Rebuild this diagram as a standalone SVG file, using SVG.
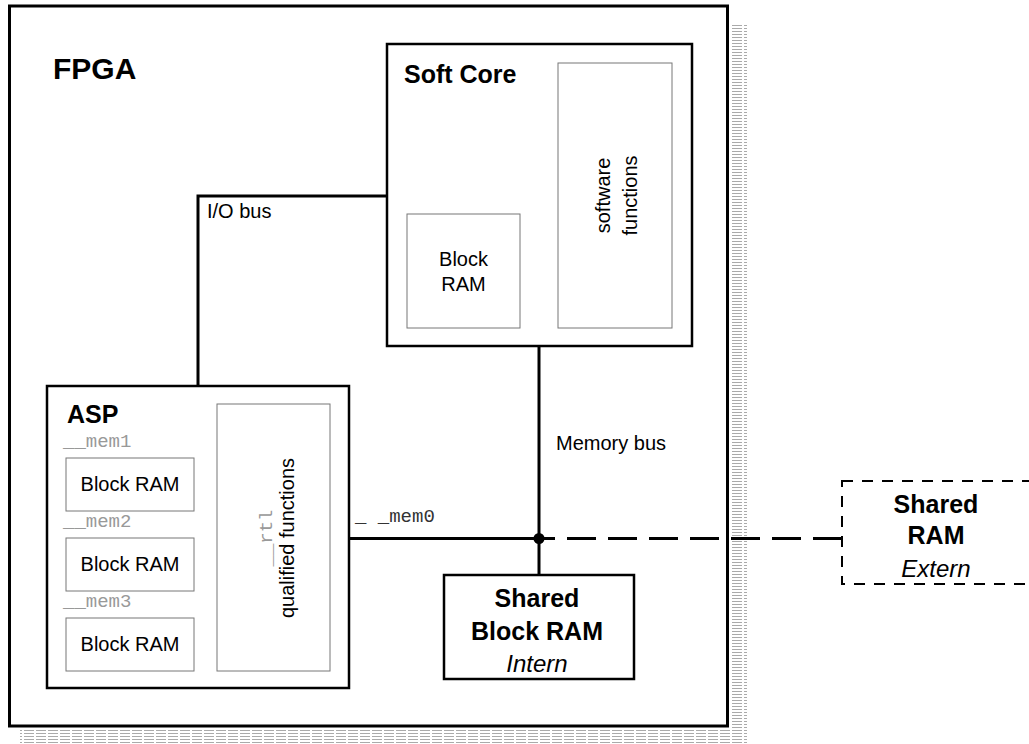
<svg xmlns="http://www.w3.org/2000/svg" width="1029" height="744" viewBox="0 0 1029 744">
<defs>
<pattern id="hatch" width="12" height="3" patternUnits="userSpaceOnUse">
<rect width="12" height="3" fill="#fff"/>
<line x1="0" y1="1.5" x2="10" y2="1.5" stroke="#aaa" stroke-width="1"/>
</pattern>
<style>
.box{fill:#fff;stroke:#000;stroke-width:2.5}
.inner{fill:#fff;stroke:#777;stroke-width:1}
.t{font-family:"Liberation Sans",Arial,sans-serif;fill:#000}
.b{font-weight:bold}
.m{font-family:"Liberation Mono","Courier New",monospace;font-size:19px;fill:#999}
.bus{fill:none;stroke:#000;stroke-width:3}
</style>
</defs>
<rect width="1029" height="744" fill="#fff"/>
<g id="fpga">
<rect x="730" y="24" width="17" height="719" fill="url(#hatch)"/>
<rect x="20" y="729" width="727" height="14" fill="url(#hatch)"/>
<rect x="9.5" y="6" width="718" height="720" fill="#fff" stroke="#000" stroke-width="3"/>
<text class="t b" x="53" y="79" font-size="30">FPGA</text>
</g>
<g id="connectors">
<polyline class="bus" points="198,386 198,196 387,196"/>
<line class="bus" x1="539" y1="346" x2="539" y2="575"/>
<line class="bus" x1="349" y1="538.5" x2="539" y2="538.5"/>
<line class="bus" x1="539" y1="538.5" x2="842" y2="538.5" stroke-dasharray="29 12" stroke-dashoffset="13"/>
<circle cx="539" cy="538.5" r="5.5" fill="#000"/>
<text class="t" x="207" y="218" font-size="20">I/O bus</text>
<text class="t" x="556" y="450" font-size="20">Memory bus</text>
<text class="m" x="355" y="522" style="fill:#333">_ _mem0</text>
</g>
<g id="softcore">
<rect class="box" x="387" y="44" width="305" height="302"/>
<text class="t b" x="404" y="83" font-size="25">Soft Core</text>
<g id="softcore-bram">
<rect class="inner" x="407" y="214" width="113" height="114"/>
<text class="t" x="463.5" y="266" font-size="20" text-anchor="middle">Block</text>
<text class="t" x="463.5" y="291" font-size="20" text-anchor="middle">RAM</text>
</g>
<g id="software-functions">
<rect class="inner" x="558" y="63" width="114" height="265"/>
<g transform="translate(615,195.5) rotate(-90)">
<text class="t" x="0" y="-5" font-size="20" text-anchor="middle">software</text>
<text class="t" x="0" y="22" font-size="20" text-anchor="middle">functions</text>
</g>
</g>
</g>
<g id="asp">
<rect class="box" x="47" y="386" width="302" height="302"/>
<text class="t b" x="67" y="423" font-size="25">ASP</text>
<g id="asp-bram1">
<text class="m" x="63" y="447">__mem1</text>
<rect class="inner" x="66" y="458" width="128" height="53"/>
<text class="t" x="130" y="491" font-size="20" text-anchor="middle">Block RAM</text>
</g>
<g id="asp-bram2">
<text class="m" x="63" y="527">__mem2</text>
<rect class="inner" x="66" y="538" width="128" height="53"/>
<text class="t" x="130" y="571" font-size="20" text-anchor="middle">Block RAM</text>
</g>
<g id="asp-bram3">
<text class="m" x="63" y="607">__mem3</text>
<rect class="inner" x="66" y="618" width="128" height="53"/>
<text class="t" x="130" y="651" font-size="20" text-anchor="middle">Block RAM</text>
</g>
<g id="rtl-functions">
<rect class="inner" x="217" y="404" width="113" height="267"/>
<g transform="translate(273.5,538) rotate(-90)">
<text class="m" x="0" y="-1.5" text-anchor="middle">__rtl</text>
<text class="t" x="0" y="20.5" font-size="20" text-anchor="middle">qualified functions</text>
</g>
</g>
</g>
<g id="shared-block-ram">
<rect class="box" x="444" y="575" width="190" height="104"/>
<text class="t b" x="537" y="607" font-size="25" text-anchor="middle">Shared</text>
<text class="t b" x="537" y="640" font-size="25" text-anchor="middle">Block RAM</text>
<text class="t" x="537" y="672" font-size="24" font-style="italic" text-anchor="middle">Intern</text>
</g>
<g id="shared-ram-extern">
<rect x="842" y="481" width="200" height="103" fill="#fff" stroke="#000" stroke-width="2" stroke-dasharray="11 9"/>
<text class="t b" x="936" y="513" font-size="25" text-anchor="middle">Shared</text>
<text class="t b" x="936" y="544" font-size="25" text-anchor="middle">RAM</text>
<text class="t" x="936" y="577" font-size="24" font-style="italic" text-anchor="middle">Extern</text>
</g>
</svg>
